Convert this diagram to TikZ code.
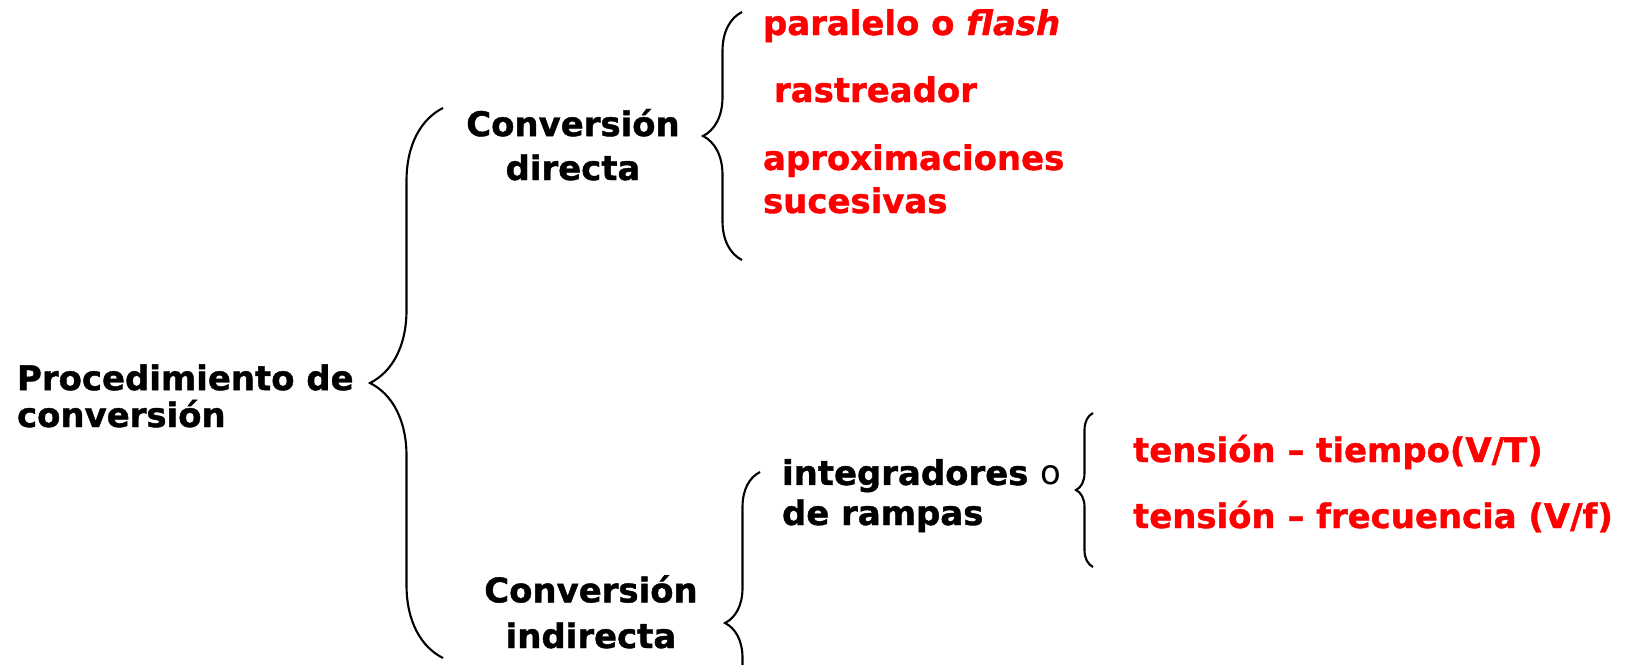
\documentclass[tikz,border=0pt]{standalone}
\usepackage{fontspec}
\setmainfont{DejaVu Sans}[BoldFeatures={FakeBold=1.2}, BoldItalicFeatures={FakeBold=1.2}]
\usetikzlibrary{positioning, decorations.pathreplacing}
\tikzset{branch/.style = {font=\bfseries\fontsize{19.3}{25}\selectfont, inner sep=0pt}}
\tikzset{leaf/.style = {branch, text=red, align=left, anchor=base west}}
\tikzset{curly/.style = {decorate, decoration={brace, amplitude=#1}}}

\begin{document}
\begin{tikzpicture}[x=0.02cm, y=-0.02cm, line width=1.2pt]
  \clip (0,0) rectangle (1627,664);

  \node [branch, align=left, anchor=base west, font=\bfseries\fontsize{19.3}{21}\selectfont] (proc) at (16,427) {Procedimiento de\\conversión};
  \node [branch, align=center, anchor=base] (dir) at (573,180) {Conversión\\directa};
  \node [branch, align=center, anchor=base, font=\bfseries\fontsize{19.3}{26}\selectfont] (ind) at (591,648) {Conversión\\indirecta};
  \node [branch, align=left, anchor=base west, font=\bfseries\fontsize{19.3}{22.8}\selectfont] (integ) at (781,525) {integradores \mdseries o\\de rampas};

  \node [leaf] (flash) at (762,35) {paralelo o \itshape flash};
  \node [leaf] (rastr) at (773,102) {rastreador};
  \node [leaf, font=\bfseries\fontsize{19.3}{24.5}\selectfont] (aprox) at (762,213) {aproximaciones\\sucesivas};
  \node [leaf] (vt) at (1132,462) {tensión – tiempo(V/T)};
  \node [leaf] (vf) at (1132,528) {tensión – frecuencia (V/f)};

  % braces
  \coordinate (procA) at (443,658);
  \coordinate (procB) at (443,108);
  \coordinate (dirA) at (742,260);
  \coordinate (dirB) at (742,12);
  \coordinate (indA) at (760,774);
  \coordinate (indB) at (760,472);
  \coordinate (integA) at (1093,567);
  \coordinate (integB) at (1093,413);

  \draw [curly=1.46cm] (procA) -- (procB);
  \draw [curly=0.78cm] (dirA) -- (dirB);
  \draw [curly=0.7cm] (indA) -- (indB);
  \draw [curly=0.34cm] (integA) -- (integB);
\end{tikzpicture}
\end{document}
